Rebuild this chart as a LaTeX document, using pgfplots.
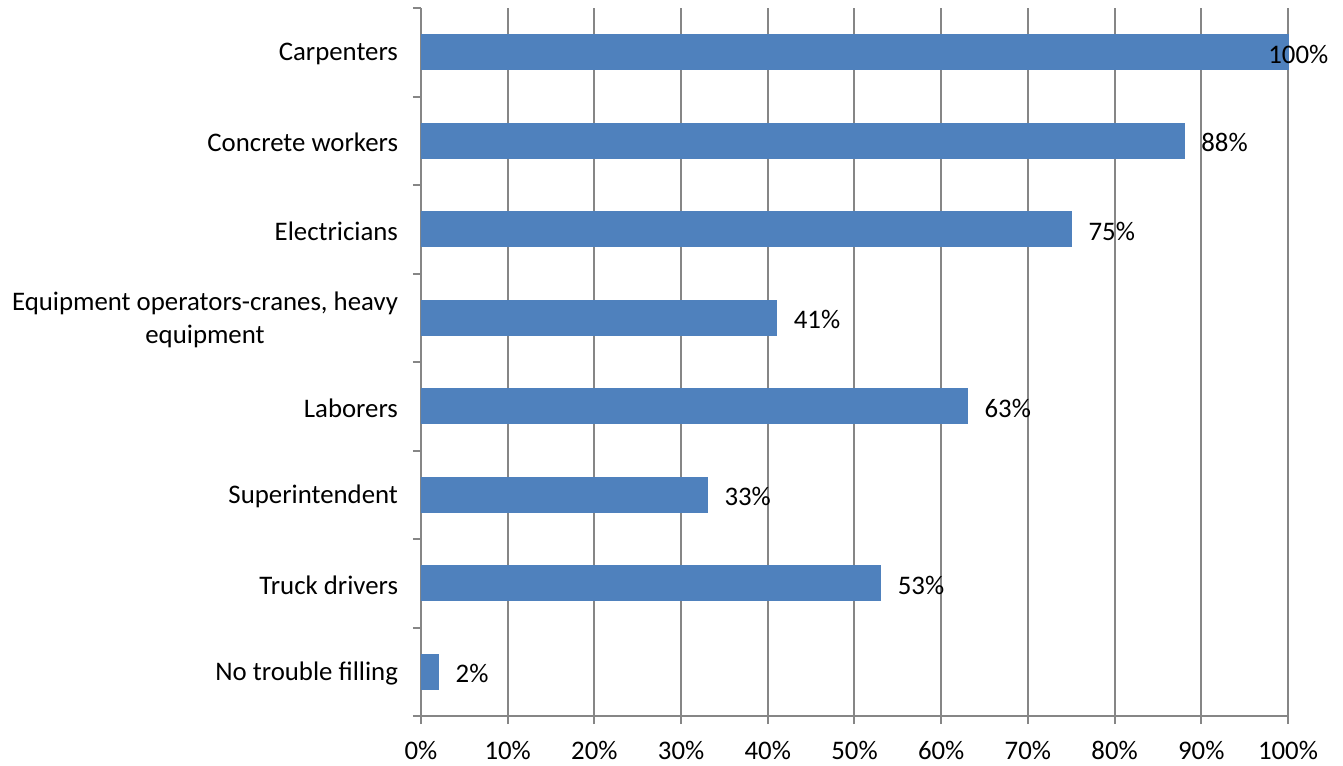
\documentclass[border=0pt]{standalone}
\usepackage{fontspec}
\setmainfont{Carlito}
\usepackage{pgfplots}
\pgfplotsset{compat=1.18}
\definecolor{barblue}{HTML}{4F81BD}
\definecolor{axgray}{HTML}{868686}
\newcommand\lf{\fontsize{13.4bp}{16.6bp}\selectfont}
\begin{document}
\begin{tikzpicture}
\useasboundingbox (-210.5bp,-25bp) rectangle (461bp,358bp);
\begin{axis}[
  scale only axis,
  width=433.5bp, height=354bp,
  xbar, bar width=17.5bp, bar shift=0pt,
  xmin=0, xmax=100, ymin=-0.5, ymax=7.5,
  y dir=reverse,
  enlargelimits=false,
  axis x line*=bottom, axis y line*=left,
  axis line style={draw=axgray, line width=1bp},
  tick align=outside,
  major tick length=4bp,
  tick style={draw=axgray, line width=1bp},
  xtick={0,10,...,100},
  xticklabels={0\%,10\%,20\%,30\%,40\%,50\%,60\%,70\%,80\%,90\%,100\%},
  xmajorgrids,
  grid style={draw=axgray, line width=1bp},
  ytick={-0.5,0.5,...,7.5},
  yticklabels={},
  extra y ticks={0,1,2,3,4,5,6,7},
  extra y tick labels={Carpenters,Concrete workers,Electricians,{Equipment operators-cranes, heavy\\equipment},Laborers,Superintendent,Truck drivers,No trouble filling},
  extra y tick style={major tick length=0pt, ymajorgrids=false},
  yticklabel style={font=\lf, align=center, xshift=-8bp, yshift=-1bp},
  xticklabel style={font=\lf, yshift=-5bp},
  nodes near coords={\pgfmathprintnumber[assume math mode=true]{\pgfplotspointmeta}\%},
  nodes near coords style={font=\lf, text=black, anchor=west, inner sep=0pt, yshift=-1bp},
  clip=false,
]
\addplot[fill=barblue, draw=barblue, nodes near coords style={xshift=-10bp}] coordinates {(100,0)};
\addplot[fill=barblue, draw=barblue, nodes near coords style={xshift=8.5bp}] coordinates {
(88,1) (75,2) (41,3) (63,4) (33,5) (53,6) (2,7)};
\end{axis}
\end{tikzpicture}
\end{document}
